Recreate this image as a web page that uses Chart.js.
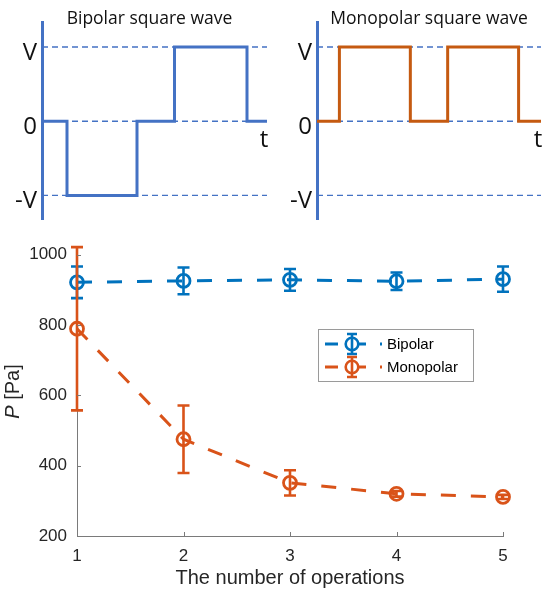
<!DOCTYPE html>
<html><head><meta charset="utf-8">
<script src="https://cdn.jsdelivr.net/npm/chart.js@4"></script>
<style>
html,body{margin:0;padding:0;background:#fff;}
#wrap{position:relative;width:543px;height:594px;overflow:hidden;background:#fff;}
canvas{position:absolute;}
</style></head><body>
<div id="wrap">
<canvas id="c1" width="272" height="225" style="left:0;top:0"></canvas>
<canvas id="c2" width="271" height="225" style="left:272px;top:0"></canvas>
<canvas id="c3" width="543" height="364" style="left:0;top:230px"></canvas>
</div>
<script>
// ---- data: top panels ----
const levelValues = [-1, 0, 1];
const levelLabels = ['-V', '0', 'V'];
const bipolarTimes = [0, 1, 3.8, 5.3, 8.2, 9];
const bipolarLevels = [0, -1, 0, 1, 0];
const monopolarTimes = [0, 0.9, 3.75, 5.25, 8.1, 9];
const monopolarLevels = [0, 1, 0, 1, 0];
const panelTitles = ['Bipolar square wave', 'Monopolar square wave'];
const timeLabel = 't';

// ---- data: main chart ----
const operations = [1, 2, 3, 4, 5];
const bipolarP = [921, 925, 928, 924, 930];
const bipolarErr = [45, 38, 31, 25, 36];
const monopolarP = [789, 475, 351, 320, 311];
const monopolarErr = [232, 96, 36, 8, 6];
const seriesNames = ['Bipolar', 'Monopolar'];
const xTitle = 'The number of operations';
const yTitleItalic = 'P';
const yTitleRest = ' [Pa]';

const TOPFONT = '"Open Sans", "DejaVu Sans", sans-serif';
const MAINFONT = '"Liberation Sans", Arial, sans-serif';

// ---------- top panels ----------
const panelDeco = {
  id: 'panelDeco',
  afterDraw(chart, args, o) {
    const {ctx, scales: {x, y}} = chart;
    ctx.save();
    ctx.fillStyle = '#111';
    ctx.textAlign = 'center';
    ctx.textBaseline = 'middle';
    ctx.font = '17.5px ' + TOPFONT;
    ctx.fillText(o.title, o.titleX, 19);
    ctx.font = '24px ' + TOPFONT;
    ctx.fillText(timeLabel, x.getPixelForValue(x.max) - 3, y.getPixelForValue(0) + 19);
    ctx.restore();
  }
};

function waveChart(id, times, levels, color, title, axisW, padRight, titleX) {
  const wave = times.map((t, i) => ({x: t, y: levels[Math.min(i, levels.length - 1)]}));
  const guides = levelValues.map(v => ({
    data: [{x: times[0], y: v}, {x: times[times.length - 1], y: v}],
    borderColor: '#4472C4', borderWidth: 1.3, borderDash: [6, 4],
    pointRadius: 0, fill: false
  }));
  return new Chart(document.getElementById(id), {
    type: 'line',
    data: {datasets: [{
      data: wave, stepped: 'before', borderColor: color, borderWidth: 3,
      pointRadius: 0, fill: false, clip: false
    }, ...guides]},
    options: {
      responsive: false, animation: false,
      layout: {padding: {left: 0, right: padRight, top: 22, bottom: 6}},
      plugins: {legend: {display: false}, tooltip: {enabled: false},
        panelDeco: {title: title, titleX: titleX}},
      scales: {
        x: {type: 'linear', min: times[0], max: times[times.length - 1], display: false},
        y: {
          type: 'linear', min: -1.317, max: 1.337,
          afterBuildTicks: s => { s.ticks = levelValues.map(v => ({value: v})); },
          afterFit: s => { s.width = axisW; s.paddingTop = 0; s.paddingBottom = 0; },
          grid: {display: false, drawTicks: false},
          border: {display: true, color: '#4472C4', width: 3},
          ticks: {
            padding: 5, labelOffset: 6, color: '#111',
            font: {family: TOPFONT, size: 24},
            callback: v => levelLabels[levelValues.indexOf(v)]
          }
        }
      }
    },
    plugins: [panelDeco]
  });
}

waveChart('c1', bipolarTimes, bipolarLevels, '#4472C4', panelTitles[0], 42, 5, 149.5);
waveChart('c2', monopolarTimes, monopolarLevels, '#C55A11', panelTitles[1], 45, 2, 157);

// ---------- main chart ----------
const errorBars = {
  id: 'errorBars',
  afterDatasetDraw(chart, args) {
    const ds = chart.data.datasets[args.index];
    if (!ds.errors) return;
    const {ctx, scales: {x, y}} = chart;
    ctx.save();
    ctx.strokeStyle = ds.borderColor;
    ctx.lineWidth = 2.6;
    ctx.setLineDash([]);
    ds.data.forEach((p, i) => {
      const px = x.getPixelForValue(p.x);
      const t = y.getPixelForValue(p.y + ds.errors[i]);
      const b = y.getPixelForValue(p.y - ds.errors[i]);
      ctx.beginPath();
      ctx.moveTo(px, t); ctx.lineTo(px, b);
      ctx.moveTo(px - 6, t); ctx.lineTo(px + 6, t);
      ctx.moveTo(px - 6, b); ctx.lineTo(px + 6, b);
      ctx.stroke();
    });
    ctx.restore();
  }
};

const axisDeco = {
  id: 'axisDeco',
  afterDraw(chart) {
    const {ctx, chartArea: a, scales: {x, y}} = chart;
    ctx.save();
    ctx.strokeStyle = '#7a7a7a';
    ctx.lineWidth = 1;
    ctx.beginPath();
    x.ticks.forEach(t => {
      const px = Math.round(x.getPixelForValue(t.value)) + 0.5;
      ctx.moveTo(px, a.bottom); ctx.lineTo(px, a.bottom - 4);
    });
    y.ticks.forEach(t => {
      const py = Math.round(y.getPixelForValue(t.value)) + 0.5;
      ctx.moveTo(a.left, py); ctx.lineTo(a.left + 4, py);
    });
    ctx.stroke();
    // titles
    ctx.fillStyle = '#262626';
    ctx.textBaseline = 'middle';
    ctx.textAlign = 'center';
    ctx.font = '20px ' + MAINFONT;
    ctx.fillText(xTitle, (a.left + a.right) / 2, 348);
    ctx.translate(13, 161.5);
    ctx.rotate(-Math.PI / 2);
    ctx.font = 'italic 20px ' + MAINFONT;
    const w1 = ctx.measureText(yTitleItalic).width;
    ctx.font = '20px ' + MAINFONT;
    const w2 = ctx.measureText(yTitleRest).width;
    const x0 = -(w1 + w2) / 2;
    ctx.textAlign = 'left';
    ctx.font = 'italic 20px ' + MAINFONT;
    ctx.fillText(yTitleItalic, x0, 0);
    ctx.font = '20px ' + MAINFONT;
    ctx.fillText(yTitleRest, x0 + w1, 0);
    ctx.restore();
  }
};

const boxLegend = {
  id: 'boxLegend',
  afterDraw(chart, args, o) {
    const {ctx} = chart;
    ctx.save();
    ctx.fillStyle = '#fff';
    ctx.fillRect(o.left, o.top, o.width, o.height);
    ctx.strokeStyle = '#9a9a9a';
    ctx.lineWidth = 1;
    ctx.strokeRect(o.left + 0.5, o.top + 0.5, o.width, o.height);
    chart.data.datasets.forEach((ds, i) => {
      const cy = o.top + 15 + i * 23;
      const x0 = o.left + 7;
      ctx.strokeStyle = ds.borderColor;
      ctx.lineWidth = 3;
      ctx.setLineDash([13, 19, 9, 14, 2, 100]);
      ctx.beginPath(); ctx.moveTo(x0, cy); ctx.lineTo(x0 + 59, cy); ctx.stroke();
      ctx.setLineDash([]);
      const mx = x0 + 27;
      ctx.lineWidth = 2.6;
      ctx.beginPath(); ctx.arc(mx, cy, 6.3, 0, Math.PI * 2); ctx.stroke();
      ctx.beginPath();
      ctx.moveTo(mx, cy - 10); ctx.lineTo(mx, cy + 10);
      ctx.moveTo(mx - 5, cy - 10); ctx.lineTo(mx + 5, cy - 10);
      ctx.moveTo(mx - 5, cy + 10); ctx.lineTo(mx + 5, cy + 10);
      ctx.stroke();
      ctx.fillStyle = '#000';
      ctx.font = '15px ' + MAINFONT;
      ctx.textAlign = 'left';
      ctx.textBaseline = 'middle';
      ctx.fillText(ds.label, o.left + 69, cy + 1);
    });
    ctx.restore();
  }
};

function series(label, vals, errs, color, order) {
  return {
    label: label,
    data: operations.map((o, i) => ({x: o, y: vals[i]})),
    errors: errs,
    borderColor: color, backgroundColor: 'rgba(0,0,0,0)',
    borderWidth: 3, borderDash: [15, 15],
    pointStyle: 'circle', pointRadius: 6.5, pointBorderWidth: 2.8,
    pointBorderColor: color, pointBackgroundColor: 'rgba(0,0,0,0)',
    fill: false, tension: 0, clip: false, order: order
  };
}

new Chart(document.getElementById('c3'), {
  type: 'line',
  data: {datasets: [
    series(seriesNames[0], bipolarP, bipolarErr, '#0072BD', 2),
    series(seriesNames[1], monopolarP, monopolarErr, '#D95319', 1)
  ]},
  options: {
    responsive: false, animation: false,
    layout: {padding: {left: 0, right: 40, top: 24.5, bottom: 0}},
    plugins: {
      legend: {display: false}, tooltip: {enabled: false},
      boxLegend: {left: 318, top: 99, width: 155, height: 52}
    },
    scales: {
      x: {
        type: 'linear', min: 1, max: 5,
        afterFit: s => { s.height = 58; },
        grid: {display: false, drawTicks: false},
        border: {display: true, color: '#7a7a7a', width: 1},
        ticks: {stepSize: 1, padding: 10, color: '#262626', font: {family: MAINFONT, size: 17},
          callback: v => String(v)}
      },
      y: {
        type: 'linear', min: 200, max: 1000,
        afterFit: s => { s.width = 77; },
        grid: {display: false, drawTicks: false},
        border: {display: true, color: '#7a7a7a', width: 1},
        ticks: {stepSize: 200, padding: 10, color: '#262626', font: {family: MAINFONT, size: 17},
          callback: v => String(v)}
      }
    }
  },
  plugins: [errorBars, axisDeco, boxLegend]
});
</script>
</body></html>
